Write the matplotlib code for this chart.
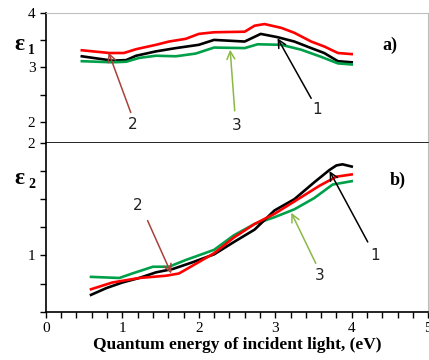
import matplotlib.pyplot as plt
from matplotlib.ticker import MultipleLocator

# (a) epsilon_1 curves
x1_red = [0.47, 0.83, 1.02, 1.18, 1.44, 1.61, 1.83, 2.0, 2.2, 2.6, 2.73, 2.86, 3.08, 3.25, 3.47, 3.64, 3.82, 4.0]
y1_red = [3.31, 3.26, 3.26, 3.33, 3.41, 3.47, 3.52, 3.61, 3.64, 3.65, 3.76, 3.79, 3.72, 3.63, 3.47, 3.38, 3.26, 3.24]
x1_black = [0.47, 0.87, 1.05, 1.18, 1.44, 1.7, 2.0, 2.2, 2.6, 2.81, 3.03, 3.25, 3.47, 3.64, 3.82, 4.0]
y1_black = [3.2, 3.12, 3.13, 3.21, 3.29, 3.35, 3.41, 3.5, 3.47, 3.61, 3.55, 3.47, 3.35, 3.26, 3.11, 3.09]
x1_green = [0.47, 0.87, 1.05, 1.22, 1.44, 1.7, 1.96, 2.2, 2.6, 2.77, 3.08, 3.34, 3.6, 3.82, 4.0]
y1_green = [3.11, 3.09, 3.1, 3.17, 3.21, 3.2, 3.25, 3.36, 3.35, 3.42, 3.41, 3.32, 3.19, 3.07, 3.05]

# (b) epsilon_2 curves
x2_green = [0.59, 0.96, 1.13, 1.4, 1.61, 1.83, 2.2, 2.46, 2.73, 2.99, 3.25, 3.51, 3.75, 4.0]
y2_green = [0.81, 0.80, 0.84, 0.90, 0.90, 0.96, 1.05, 1.18, 1.28, 1.34, 1.41, 1.51, 1.63, 1.66]
x2_black = [0.59, 0.79, 1.0, 1.22, 1.44, 1.66, 1.92, 2.2, 2.46, 2.73, 2.99, 3.25, 3.51, 3.71, 3.80, 3.88, 4.0]
y2_black = [0.65, 0.71, 0.76, 0.80, 0.85, 0.88, 0.94, 1.01, 1.12, 1.23, 1.40, 1.50, 1.65, 1.76, 1.80, 1.81, 1.79]
x2_red = [0.59, 0.87, 1.22, 1.57, 1.74, 1.92, 2.2, 2.46, 2.73, 2.99, 3.25, 3.58, 3.8, 4.0]
y2_red = [0.70, 0.76, 0.80, 0.82, 0.84, 0.91, 1.02, 1.16, 1.28, 1.37, 1.48, 1.62, 1.70, 1.72]

RED = "#ff0000"
GREEN = "#00a04a"
ARROW_RED = "#a8423a"
ARROW_GREEN = "#8cb848"
GRAY = "#bfbfbf"
SERIF = "Liberation Serif"

fig = plt.figure(figsize=(4.29, 3.60), dpi=100, facecolor="white")
ax_a = fig.add_axes([0.107, 0.604, 0.891, 0.361])
ax_b = fig.add_axes([0.107, 0.134, 0.891, 0.469])

lw = 1.9
ax_a.plot(x1_red, y1_red, color=RED, lw=lw)
ax_a.plot(x1_black, y1_black, color="black", lw=lw)
ax_a.plot(x1_green, y1_green, color=GREEN, lw=lw)

ax_b.plot(x2_green, y2_green, color=GREEN, lw=lw)
ax_b.plot(x2_black, y2_black, color="black", lw=lw)
ax_b.plot(x2_red, y2_red, color=RED, lw=lw)

for ax in (ax_a, ax_b):
    ax.set_xlim(0, 5)
    ax.spines["left"].set_color("black")
    ax.spines["left"].set_linewidth(1.2)
    ax.spines["right"].set_color(GRAY)
    ax.spines["top"].set_color(GRAY)
    ax.tick_params(axis="both", which="both", direction="out", length=4, width=1,
                   labelsize=11)
    for lab in ax.get_yticklabels() + ax.get_xticklabels():
        lab.set_family(SERIF)

# top panel
ax_a.set_ylim(1.62, 4)
ax_a.yaxis.set_major_locator(MultipleLocator(1))
ax_a.yaxis.set_minor_locator(MultipleLocator(0.5))
ax_a.set_xticks([])
ax_a.spines["bottom"].set_color("black")
ax_a.spines["bottom"].set_linewidth(1.2)
for lab in ax_a.get_yticklabels():
    lab.set_family(SERIF)

# bottom panel
ax_b.set_ylim(0.5, 2)
ax_b.set_yticks([1, 2])
ax_b.yaxis.set_minor_locator(MultipleLocator(0.25))
ax_b.xaxis.set_major_locator(MultipleLocator(1))
ax_b.xaxis.set_minor_locator(MultipleLocator(0.2))
ax_b.spines["bottom"].set_linewidth(1.2)
ax_b.spines["top"].set_visible(False)
for lab in ax_b.get_yticklabels() + ax_b.get_xticklabels():
    lab.set_family(SERIF)
ax_b.set_xlabel("Quantum energy of incident light, (eV)", family=SERIF,
                fontsize=12.5, weight="bold", labelpad=1)

# epsilon labels
fig.text(0.033, 0.875, "ε", family=SERIF, weight="bold", fontsize=17, va="center")
fig.text(0.066, 0.86, "1", family=SERIF, weight="bold", fontsize=10, va="center")
fig.text(0.033, 0.505, "ε", family=SERIF, weight="bold", fontsize=17, va="center")
fig.text(0.066, 0.488, "2", family=SERIF, weight="bold", fontsize=10, va="center")

ax_a.text(4.5, 3.4, "a)", family=SERIF, weight="bold", fontsize=13, ha="center", va="center")
ax_b.text(4.6, 1.67, "b)", family=SERIF, weight="bold", fontsize=13, ha="center", va="center")


def label_arrow(ax, num, text_xy, tail_xy, head_xy, color):
    ax.annotate("", xy=head_xy, xytext=tail_xy,
                arrowprops=dict(arrowstyle="->", color=color, lw=1.1,
                                shrinkA=0, shrinkB=0, mutation_scale=14))
    ax.text(text_xy[0], text_xy[1], num, fontsize=11, color="#222222",
            ha="center", va="center", family="DejaVu Sans")


label_arrow(ax_a, "2", (1.13, 1.95), (1.11, 2.17), (0.82, 3.27), ARROW_RED)
label_arrow(ax_a, "3", (2.49, 1.94), (2.47, 2.2), (2.41, 3.32), ARROW_GREEN)
label_arrow(ax_a, "1", (3.55, 2.22), (3.47, 2.43), (3.03, 3.53), "black")

label_arrow(ax_b, "2", (1.2, 1.44), (1.33, 1.31), (1.64, 0.84), ARROW_RED)
label_arrow(ax_b, "3", (3.58, 0.82), (3.53, 0.93), (3.21, 1.38), ARROW_GREEN)
label_arrow(ax_b, "1", (4.3, 1.0), (4.21, 1.12), (3.71, 1.75), "black")

fig.savefig("out.png", dpi=100)
